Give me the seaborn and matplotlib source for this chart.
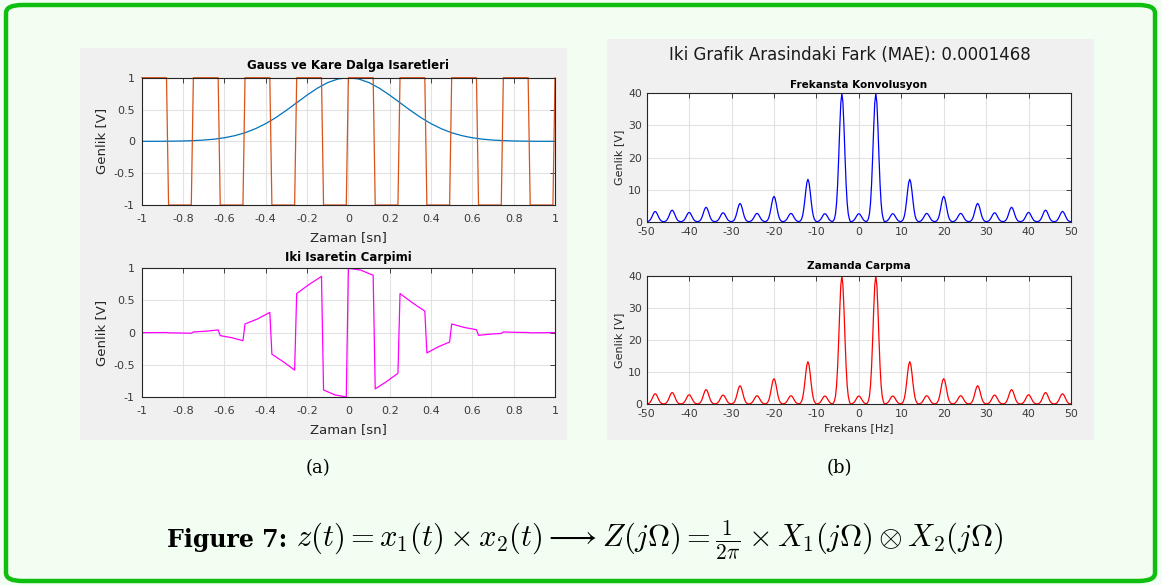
import numpy as np
import matplotlib
matplotlib.use("Agg")
import matplotlib.pyplot as plt
import seaborn as sns
from matplotlib.patches import FancyBboxPatch, Rectangle

# ---------------- data ----------------
# Gaussian pulse sampled every 0.05 s
gauss_t = np.linspace(-1, 1, 41)
gauss_v = [0.0003, 0.0007, 0.0015, 0.003, 0.006, 0.011, 0.020, 0.034, 0.056, 0.089,
           0.135, 0.198, 0.278, 0.375, 0.487, 0.607, 0.726, 0.835, 0.923, 0.980,
           1.000,
           0.980, 0.923, 0.835, 0.726, 0.607, 0.487, 0.375, 0.278, 0.198, 0.135,
           0.089, 0.056, 0.034, 0.020, 0.011, 0.006, 0.003, 0.0015, 0.0007, 0.0003]

# 4 Hz square wave (corner points)
square_t = [-1, -0.88, -0.87, -0.76, -0.75, -0.63, -0.62, -0.51, -0.50, -0.38, -0.37,
            -0.26, -0.25, -0.13, -0.12, -0.01, 0.00, 0.12, 0.13, 0.24, 0.25, 0.37,
            0.38, 0.49, 0.50, 0.62, 0.63, 0.74, 0.75, 0.87, 0.88, 0.99, 1.00]
square_v = [1, 1, -1, -1, 1, 1, -1, -1, 1, 1, -1,
            -1, 1, 1, -1, -1, 1, 1, -1, -1, 1, 1,
            -1, -1, 1, 1, -1, -1, 1, 1, -1, -1, 1]

# product of the two signals
prod_t = [-1, -0.94, -0.88, -0.87, -0.82, -0.76, -0.75, -0.69, -0.63, -0.62, -0.565,
          -0.51, -0.50, -0.44, -0.38, -0.37, -0.315, -0.26, -0.25, -0.19, -0.13,
          -0.12, -0.065, -0.01, 0.00, 0.06, 0.12, 0.13, 0.185, 0.24, 0.25, 0.31,
          0.37, 0.38, 0.435, 0.49, 0.50, 0.56, 0.62, 0.63, 0.685, 0.74, 0.75, 0.81,
          0.87, 0.88, 0.94, 0.99, 1.00]
prod_v = [0.000, 0.001, 0.002, -0.002, -0.005, -0.010, 0.011, 0.022, 0.042, -0.046, -0.078,
          -0.125, 0.135, 0.212, 0.315, -0.335, -0.452, -0.582, 0.607, 0.749, 0.874,
          -0.891, -0.967, -1.000, 1.000, 0.972, 0.891, -0.874, -0.760, -0.631, 0.607, 0.464,
          0.335, -0.315, -0.220, -0.146, 0.135, 0.081, 0.046, -0.042, -0.023, -0.0125, 0.011, 0.005,
          0.002, -0.002, -0.001, -0.0004, 0.0003]

# magnitude spectrum: lobe centres and heights
peak_freqs = list(range(-48, 49, 4))
peak_heights = [3.2, 3.6, 2.9, 4.5, 2.8, 5.7, 2.6, 7.9, 2.6, 13.2, 2.5, 40.0, 2.5,
                40.0, 2.5, 13.2, 2.6, 7.9, 2.6, 5.7, 2.8, 4.5, 2.9, 3.6, 3.2]
# relative shape of a single lobe around its centre
lobe_offsets = [-2.0, -1.75, -1.5, -1.25, -1.0, -0.75, -0.5, -0.25, 0.0,
                0.25, 0.5, 0.75, 1.0, 1.25, 1.5, 1.75]
lobe_shape = [0.007, 0.023, 0.062, 0.145, 0.291, 0.500, 0.735, 0.926, 1.0,
              0.926, 0.735, 0.500, 0.291, 0.145, 0.062, 0.023]

spec_f, spec_a = [], []
for p, h in zip(peak_freqs, peak_heights):
    for o, s in zip(lobe_offsets, lobe_shape):
        spec_f.append(p + o)
        spec_a.append(h * s)
spec_f.append(50.0)
spec_a.append(peak_heights[-1] * lobe_shape[0])

# ---------------- style ----------------
sns.set_style("white")
plt.rcParams["font.family"] = ["DejaVu Sans"]
plt.rcParams["axes.unicode_minus"] = False
plt.rcParams["mathtext.fontset"] = "cm"

W, H = 1162, 585
fig = plt.figure(figsize=(W / 100, H / 100), dpi=100)
fig.patch.set_facecolor("#f2fef2")

def fig_rect(x0, y0, x1, y1):
    return [x0 / W, 1 - y1 / H, (x1 - x0) / W, (y1 - y0) / H]

# green rounded frame
frame = FancyBboxPatch((6 / W, 4 / H), 1149 / W, 576 / H,
                       boxstyle="round,pad=0,rounding_size=0.014",
                       transform=fig.transFigure, facecolor="none",
                       edgecolor="#0fbf0f", linewidth=3.2, zorder=-5)
fig.patches.append(frame)

# grey figure backgrounds
for (x0, y0, x1, y1) in [(80, 48, 567, 440), (607, 39, 1094, 440)]:
    fig.patches.append(Rectangle((x0 / W, 1 - y1 / H), (x1 - x0) / W, (y1 - y0) / H,
                                 transform=fig.transFigure, facecolor="#f0f0f0",
                                 edgecolor="none", zorder=-5))

TXT = "#262626"

def style(ax, xlim, ylim, xticks, yticks, xlabels, ylabels, fs, xpad, ypad):
    ax.set_facecolor("white")
    ax.set_xlim(*xlim)
    ax.set_ylim(*ylim)
    ax.set_xticks(xticks)
    ax.set_yticks(yticks)
    ax.set_xticklabels(xlabels)
    ax.set_yticklabels(ylabels)
    ax.grid(True, color="#e2e2e2", linewidth=0.8)
    ax.set_axisbelow(True)
    for s in ax.spines.values():
        s.set_color(TXT)
        s.set_linewidth(0.8)
        s.set_visible(True)
    ax.tick_params(direction="in", top=True, right=True, length=3.5, width=0.6,
                   color=TXT, labelcolor="#3a3a3a", labelsize=fs)
    ax.tick_params(axis="x", pad=xpad)
    ax.tick_params(axis="y", pad=ypad)

t_ticks = [-1, -0.8, -0.6, -0.4, -0.2, 0, 0.2, 0.4, 0.6, 0.8, 1]
t_labels = ["-1", "-0.8", "-0.6", "-0.4", "-0.2", "0", "0.2", "0.4", "0.6", "0.8", "1"]
a_ticks = [-1, -0.5, 0, 0.5, 1]
a_labels = ["-1", "-0.5", "0", "0.5", "1"]
f_ticks = list(range(-50, 51, 10))
f_labels = [str(v) for v in f_ticks]
m_ticks = [0, 10, 20, 30, 40]
m_labels = [str(v) for v in m_ticks]

# (a) top: Gaussian and square wave
ax1 = fig.add_axes(fig_rect(141.7, 77.7, 555, 205))
sns.lineplot(x=gauss_t, y=gauss_v, ax=ax1, color="#0072BD", linewidth=0.9,
             estimator=None, sort=False)
sns.lineplot(x=square_t, y=square_v, ax=ax1, color="#D95319", linewidth=0.9,
             estimator=None, sort=False)
ax1.lines[-1].set_clip_on(False)
style(ax1, (-1, 1), (-1, 1), t_ticks, a_ticks, t_labels, a_labels, 8, 6.5, 5)
ax1.set_title("Gauss ve Kare Dalga Isaretleri", fontsize=8.5, fontweight="bold",
              color="black", pad=6)
ax1.set_xlabel("Zaman [sn]", fontsize=9.5, color=TXT, labelpad=5)
ax1.set_ylabel("Genlik [V]", fontsize=9.5, color=TXT, labelpad=4)

# (a) bottom: product
ax2 = fig.add_axes(fig_rect(141.7, 268.3, 555, 397))
sns.lineplot(x=prod_t, y=prod_v, ax=ax2, color="#FF00FF", linewidth=0.9,
             estimator=None, sort=False)
style(ax2, (-1, 1), (-1, 1), t_ticks, a_ticks, t_labels, a_labels, 8, 6.5, 5)
ax2.set_title("Iki Isaretin Carpimi", fontsize=8.5, fontweight="bold",
              color="black", pad=5)
ax2.set_xlabel("Zaman [sn]", fontsize=9.5, color=TXT, labelpad=5)
ax2.set_ylabel("Genlik [V]", fontsize=9.5, color=TXT, labelpad=4)

# (b) top: convolution in frequency
ax3 = fig.add_axes(fig_rect(646.7, 93.3, 1071, 221.7))
sns.lineplot(x=spec_f, y=spec_a, ax=ax3, color="#0000FF", linewidth=0.9,
             estimator=None, sort=False)
style(ax3, (-50, 50), (0, 40), f_ticks, m_ticks, f_labels, m_labels, 7.8, 3.5, 3.5)
ax3.set_title("Frekansta Konvolusyon", fontsize=7.5, fontweight="bold",
              color="black", pad=4)
ax3.set_ylabel("Genlik [V]", fontsize=8, color=TXT, labelpad=3)
ax3.set_xlabel("")

# (b) bottom: multiplication in time
ax4 = fig.add_axes(fig_rect(646.7, 275.7, 1071, 404))
sns.lineplot(x=spec_f, y=spec_a, ax=ax4, color="#FF0000", linewidth=0.9,
             estimator=None, sort=False)
style(ax4, (-50, 50), (0, 40), f_ticks, m_ticks, f_labels, m_labels, 7.8, 3.5, 3.5)
ax4.set_title("Zamanda Carpma", fontsize=7.5, fontweight="bold",
              color="black", pad=4.5)
ax4.set_ylabel("Genlik [V]", fontsize=8, color=TXT, labelpad=3)
ax4.set_xlabel("Frekans [Hz]", fontsize=8, color=TXT, labelpad=3)

fig.text(850 / W, 1 - 55 / H, "Iki Grafik Arasindaki Fark (MAE): 0.0001468",
         ha="center", va="center", fontsize=12, color="#1a1a1a")

# sub-captions and figure caption
fig.text(318 / W, 1 - 468 / H, "(a)", ha="center", va="center",
         fontsize=13, family="DejaVu Serif", color="black")
fig.text(839 / W, 1 - 468 / H, "(b)", ha="center", va="center",
         fontsize=13, family="DejaVu Serif", color="black")
fig.text(287 / W, 1 - 540 / H, "Figure 7:", ha="right", va="center",
         fontsize=17, family="DejaVu Serif", fontweight="bold", color="black")
fig.text(296 / W, 1 - 540 / H,
         r"$z(t) = x_1(t) \times x_2(t) \longrightarrow Z(j\Omega) = \frac{1}{2\pi} \times X_1(j\Omega) \otimes X_2(j\Omega)$",
         ha="left", va="center", fontsize=22, color="black")

fig.savefig("out.png", dpi=100, facecolor=fig.get_facecolor())
